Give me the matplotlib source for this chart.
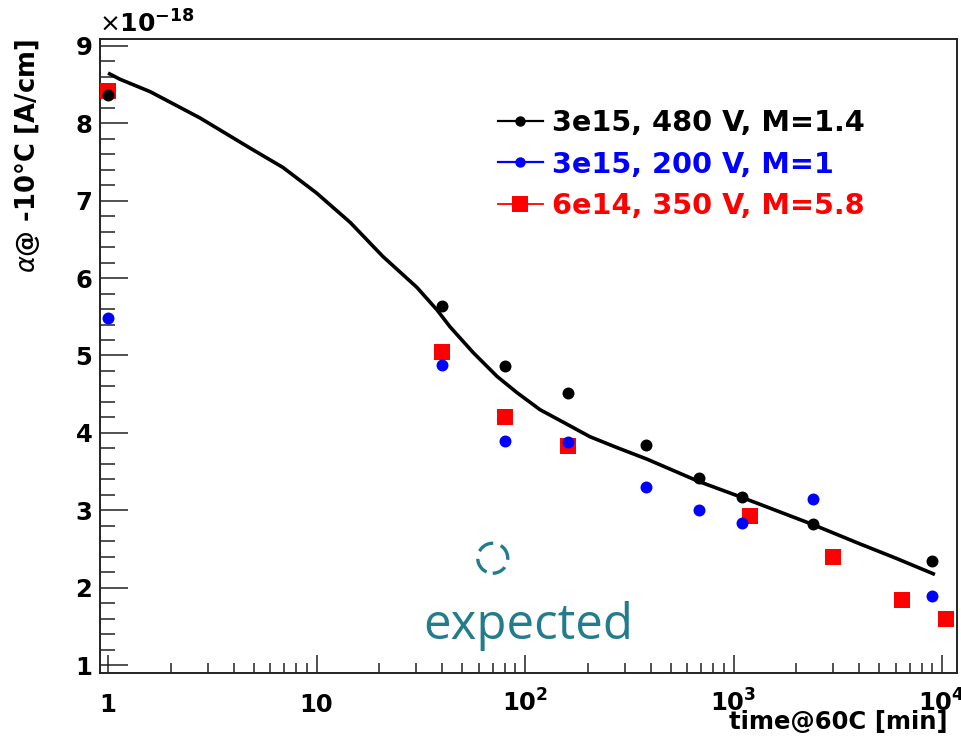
import math
import matplotlib
matplotlib.use('Agg')
import matplotlib.pyplot as plt
from matplotlib.lines import Line2D
from matplotlib.patches import Circle
from matplotlib.ticker import MultipleLocator, LogLocator, FuncFormatter, NullFormatter
import matplotlib.transforms as mtransforms

plt.rcParams['mathtext.fontset'] = 'dejavusans'

# leakage current damage constant vs annealing time (units of 1e-18 A/cm)
t_480 = [1, 40, 80, 160, 380, 680, 1100, 2400, 9000]
alpha_480 = [8.37, 5.64, 4.86, 4.51, 3.84, 3.42, 3.17, 2.82, 2.34]

t_200 = [1, 40, 80, 160, 380, 680, 1100, 2400, 9000]
alpha_200 = [5.49, 4.88, 3.90, 3.88, 3.30, 3.00, 2.84, 3.14, 1.89]

t_350 = [1, 40, 80, 160, 1200, 3000, 6400, 10500]
alpha_350 = [8.42, 5.05, 4.20, 3.83, 2.92, 2.39, 1.84, 1.59]

# annealing fit curve through the 480 V series
fit_t = [1, 1.14, 1.59, 2.76, 4.8, 6.9, 10, 14.5, 20.8, 30.3, 37.8, 43.7, 56.3,
         73.4, 91.5, 118, 152, 205, 276, 385, 684, 1087, 2378, 4000, 6015, 9250]
fit_alpha = [8.65, 8.57, 8.41, 8.07, 7.68, 7.43, 7.10, 6.72, 6.28, 5.88, 5.59,
             5.37, 5.04, 4.73, 4.52, 4.30, 4.14, 3.95, 3.81, 3.66, 3.37, 3.17,
             2.82, 2.57, 2.38, 2.17]

labels = ['3e15, 480 V, M=1.4', '3e15, 200 V, M=1', '6e14, 350 V, M=5.8']

expected_t = 70
expected_alpha = 2.38

W, H = 961, 741
fig = plt.figure(figsize=(W / 100, H / 100), dpi=100)
ax = fig.add_axes([100 / W, 1 - 673 / H, 857 / W, 634 / H])

ax.plot(t_350, alpha_350, ls='none', marker='s', ms=11.5, mew=0, color='red', zorder=3)
ax.plot(t_200, alpha_200, ls='none', marker='o', ms=8.6, mew=0, color='blue', zorder=4)
ax.plot(t_480, alpha_480, ls='none', marker='o', ms=8.6, mew=0, color='black', zorder=5)
ax.plot(fit_t, fit_alpha, color='black', lw=2.6, zorder=6, solid_capstyle='butt',
        solid_joinstyle='round')

ax.set_xscale('log')
ax.set_xlim(0.915, 11800)
ax.set_ylim(0.897, 9.09)

ax.yaxis.set_major_locator(MultipleLocator(1))
ax.yaxis.set_minor_locator(MultipleLocator(0.2))
ax.xaxis.set_major_locator(LogLocator(base=10))
ax.xaxis.set_minor_locator(LogLocator(base=10, subs=range(2, 10)))
ax.xaxis.set_minor_formatter(NullFormatter())


def xfmt(v, pos):
    if v < 5:
        return '1'
    if v < 50:
        return '10'
    return r'$\mathbf{10^{%d}}$' % round(math.log10(v))


ax.xaxis.set_major_formatter(FuncFormatter(xfmt))
ax.yaxis.set_major_formatter(FuncFormatter(lambda v, p: '%d' % round(v)))

tick_col = '#222222'
ax.tick_params(axis='both', which='both', direction='in', top=False, right=False,
               width=1.1, color=tick_col)
ax.tick_params(axis='x', which='major', length=13, pad=28)
ax.tick_params(axis='x', which='minor', length=7)
ax.tick_params(axis='y', which='major', length=20, pad=5.5)
ax.tick_params(axis='y', which='minor', length=11)
for spine in ax.spines.values():
    spine.set_linewidth(1.4)
    spine.set_color(tick_col)

for lbl in ax.get_xticklabels() + ax.get_yticklabels():
    lbl.set_fontfamily('DejaVu Sans')
    lbl.set_fontweight('bold')
    lbl.set_fontsize(17.5)
for lbl in ax.get_xticklabels():
    lbl.set_va('baseline')

ax.set_ylabel(r'$\alpha$@ -10°C [A/cm]', loc='top', fontsize=18.5, fontweight='bold',
              family='DejaVu Sans')
ax.yaxis.set_label_coords(-58 / 857, 1)
ax.set_xlabel('time@60C [min]', fontsize=17.5, fontweight='bold', family='DejaVu Sans')
ax.xaxis.set_label_coords(1 - 9 / 857, -37 / 634)
ax.xaxis.label.set_ha('right')

ax.annotate(r'$\times\mathbf{10^{-18}}$', xy=(0, 1), xycoords='axes fraction',
            xytext=(-1, 4.5), textcoords='offset points', va='baseline', ha='left',
            fontsize=18)

handles = [
    Line2D([], [], color='black', marker='o', ms=7.5, mew=0, lw=1.6),
    Line2D([], [], color='blue', marker='o', ms=7.5, mew=0, lw=1.6),
    Line2D([], [], color='red', marker='s', ms=11.5, mew=0, lw=1.3),
]
ax.legend(handles, labels, loc='upper left', bbox_to_anchor=(498 / W, 1 - 109 / H),
          bbox_transform=fig.transFigure, frameon=False, borderpad=0, borderaxespad=0,
          handlelength=1.56, handletextpad=0.31, labelspacing=0.47,
          prop=dict(family='DejaVu Sans', weight='bold', size=20.7),
          labelcolor='linecolor')

# dashed ring marking the expected value
teal = '#237c8c'
ring_tr = fig.dpi_scale_trans + mtransforms.ScaledTranslation(
    expected_t, expected_alpha, ax.transData)
ax.add_patch(Circle((0, 0), radius=0.15, transform=ring_tr, fill=False,
                    edgecolor=teal, lw=2.4, ls=(0.8, (5.0, 2.4)), zorder=7))
ax.text(32.4, 1.335, 'expected', color=teal, fontsize=35.4, family='Open Sans',
        va='baseline', ha='left', zorder=7)

fig.savefig('out.png', dpi=100)
